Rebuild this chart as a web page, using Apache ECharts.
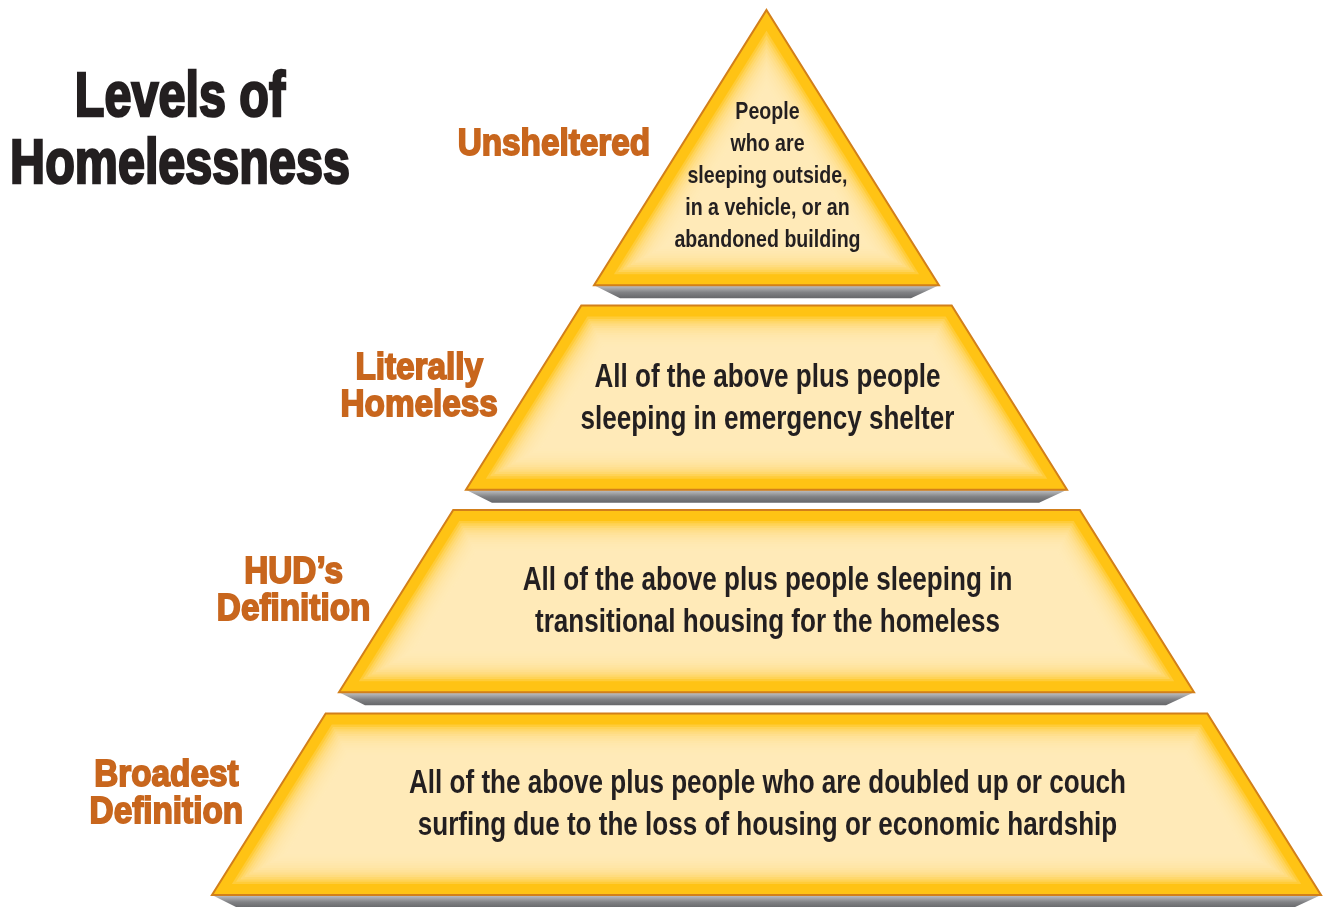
<!DOCTYPE html>
<html><head><meta charset="utf-8">
<script src="https://cdn.jsdelivr.net/npm/echarts@6/dist/echarts.min.js"></script>
<style>html,body{margin:0;padding:0;background:#fff}#c{width:1323px;height:907px}</style>
</head><body><div id="c"></div>
<script>
const titleLines = ['Levels of', 'Homelessness'];
const levelNames = ['Unsheltered', 'Literally\nHomeless', 'HUD\u2019s\nDefinition', 'Broadest\nDefinition'];
const levelDescriptions = [
  'People\nwho are\nsleeping outside,\nin a vehicle, or an\nabandoned building',
  'All of the above plus people\nsleeping in emergency shelter',
  'All of the above plus people sleeping in\ntransitional housing for the homeless',
  'All of the above plus people who are doubled up or couch\nsurfing due to the loss of housing or economic hardship'
];
// depth of each level below the apex, in % of the pyramid height
const levelStart = [0, 33.4, 56.5, 79.5];
const levelEnd = [31.1, 54.2, 77.1, 100];

const FONT = '"Liberation Sans", Arial, sans-serif';
const LABEL_COLOR = '#C8661D';
const TEXT_COLOR = '#231F20';
const YELLOW = '#FFC314';
const PALE = '#FDEDBE';
const EDGE = '#D27F1A';

function renderItem(params, api) {
  const i = api.value(0), d0 = api.value(1), d1 = api.value(2);
  const tl = api.coord([-d0, d0]), tr = api.coord([d0, d0]);
  const br = api.coord([d1, d1]), bl = api.coord([-d1, d1]);
  const apex = api.coord([0, 0]);
  const cx = apex[0];
  const s = (br[0] - cx) / (br[1] - apex[1]);
  const k = Math.sqrt(1 + s * s);
  const halfAt = y => (y - apex[1]) * s;
  const children = [];
  // gray bevel under the block
  children.push({
    type: 'polygon',
    shape: { points: [[bl[0], bl[1]], [br[0], br[1]], [br[0] - 28, br[1] + 13], [bl[0] + 26, bl[1] + 13]] },
    style: { fill: new echarts.graphic.LinearGradient(0, 0, 0, 1, [
      { offset: 0, color: '#C4C5C7' }, { offset: 0.55, color: '#808184' }, { offset: 1, color: '#66676A' }]) }
  });
  // outer block
  children.push({
    type: 'polygon',
    shape: { points: [tl, tr, br, bl] },
    style: { fill: YELLOW, stroke: EDGE, lineWidth: 2, lineJoin: 'miter' }
  });
  // soft inner glow as layered insets
  const N = 14;
  for (let j = 0; j < N; j++) {
    const t = 11 + j * 2.3;
    let yT = tl[1] + t;
    yT = Math.max(yT, apex[1] + t * k / s);
    const yB = bl[1] - t;
    if (yB <= yT) break;
    const hw = y => Math.max(0, halfAt(y) - t * k);
    children.push({
      type: 'polygon',
      silent: true,
      shape: { points: [[cx - hw(yT), yT], [cx + hw(yT), yT], [cx + hw(yB), yB], [cx - hw(yB), yB]] },
      style: { fill: PALE, opacity: 0.22 }
    });
  }
  // description
  const isTop = d0 === 0;
  const descY = isTop ? tl[1] + (bl[1] - tl[1]) * 0.605 : (tl[1] + bl[1]) / 2 + 1;
  children.push({
    type: 'text',
    x: cx + 1, y: descY,
    scaleX: isTop ? 0.8 : 0.79,
    style: {
      text: levelDescriptions[i],
      align: 'center', verticalAlign: 'middle',
      fontFamily: FONT, fontWeight: 'bold', fontSize: isTop ? 24.5 : 33,
      lineHeight: isTop ? 32 : 42,
      fill: TEXT_COLOR
    }
  });
  // side label
  const labY = (tl[1] + bl[1]) / 2 - (isTop ? 3 : 10);
  const edgeX = cx - halfAt(labY);
  children.push({
    type: 'text',
    x: edgeX - 32, y: labY,
    scaleX: 0.9,
    style: {
      text: levelNames[i].split('\n').map(l => '{n|' + l + '}').join('\n'),
      align: 'right', verticalAlign: 'middle',
      rich: { n: { align: 'center', fontFamily: FONT, fontWeight: 'bold', fontSize: 37, lineHeight: 37,
        fill: LABEL_COLOR, stroke: LABEL_COLOR, lineWidth: 1.8 } }
    }
  });
  return { type: 'group', children };
}

const chart = echarts.init(document.getElementById('c'), null, { renderer: 'canvas' });
chart.setOption({
  animation: false,
  backgroundColor: '#ffffff',
  grid: { left: 212, right: 2, top: 10, bottom: 12 },
  xAxis: { type: 'value', min: -100, max: 100, show: false },
  yAxis: { type: 'value', min: 0, max: 100, inverse: true, show: false },
  graphic: titleLines.map((t, j) => ({
    type: 'text', x: 180, y: j === 0 ? 99 : 166, scaleX: 0.77,
    style: { text: t, align: 'center', verticalAlign: 'middle',
      fontFamily: FONT, fontWeight: 'bold', fontSize: 63, fill: TEXT_COLOR,
      stroke: TEXT_COLOR, lineWidth: 2.6 }
  })),
  series: [{
    type: 'custom',
    renderItem,
    clip: false,
    data: levelStart.map((v, i) => [i, v, levelEnd[i]])
  }]
});
</script></body></html>
